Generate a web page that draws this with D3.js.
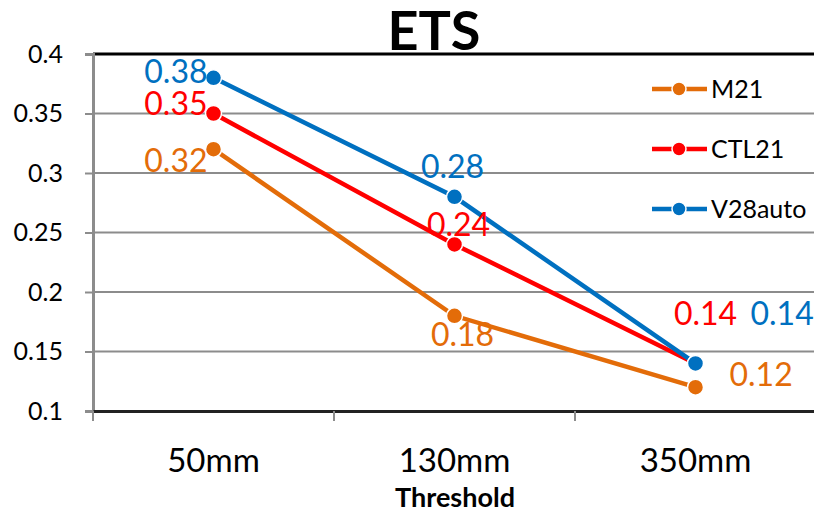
<!DOCTYPE html>
<html>
<head>
<meta charset="utf-8">
<script src="https://cdn.jsdelivr.net/npm/d3@7.9.0/dist/d3.min.js"></script>
<style>
  body { margin: 0; background: #fff; }
  text { font-family: Lato, "Open Sans", sans-serif; }
</style>
</head>
<body>
<div id="chart"></div>
<script>
// Data
const categories = ["50mm", "130mm", "350mm"];
const seriesNames = ["M21", "CTL21", "V28auto"];
const m21 = [0.32, 0.18, 0.12];
const ctl21 = [0.35, 0.24, 0.14];
const v28auto = [0.38, 0.28, 0.14];
const yTicks = [0.1, 0.15, 0.2, 0.25, 0.3, 0.35, 0.4];

const colors = {M21: "#E36C09", CTL21: "#FF0000", V28auto: "#0070C0"};
const series = [
  {name: "M21", values: m21},
  {name: "CTL21", values: ctl21},
  {name: "V28auto", values: v28auto}
];

// label offsets (dx, dy, anchor) per series per point
const labelPos = {
  M21: [[-6, 12, "end"], [8, 19, "middle"], [34, -12, "start"]],
  CTL21: [[-6, -10, "end"], [4, -20, "middle"], [10, -50, "middle"]],
  V28auto: [[-6, -6, "end"], [-2, -30, "middle"], [55, -50, "start"]]
};

const width = 814, height = 513;
const margin = {top: 54, right: -2, bottom: 102, left: 93};

const svg = d3.select("#chart").append("svg")
  .attr("width", width).attr("height", height);

const x = d3.scaleBand().domain(categories)
  .range([margin.left, width - margin.right]);
const y = d3.scaleLinear().domain([0.1, 0.4])
  .range([height - margin.bottom, margin.top]);

// gridlines
svg.append("g").selectAll("line")
  .data(yTicks.slice(1, -1))
  .join("line")
  .attr("x1", margin.left).attr("x2", width)
  .attr("y1", d => y(d)).attr("y2", d => y(d))
  .attr("stroke", "#8c8c8c").attr("stroke-width", 2);

// top border
svg.append("line")
  .attr("x1", margin.left).attr("x2", width)
  .attr("y1", y(0.4)).attr("y2", y(0.4))
  .attr("stroke", "#000").attr("stroke-width", 3);

// Y axis
const yAxis = svg.append("g")
  .attr("transform", `translate(${margin.left},0)`)
  .call(d3.axisLeft(y).tickValues(yTicks).tickSize(8).tickPadding(22)
    .tickFormat(d => d3.format("")(+d.toFixed(2))));
yAxis.select(".domain").attr("stroke", "#8c8c8c").attr("stroke-width", 3);
yAxis.selectAll(".tick line").attr("stroke", "#8c8c8c").attr("stroke-width", 2);
yAxis.selectAll(".tick text").attr("font-size", 25).attr("fill", "#000")
  .style("font-family", "Lato, sans-serif");

// X axis
const xAxis = svg.append("g")
  .attr("transform", `translate(0,${y(0.1)})`)
  .call(d3.axisBottom(x).tickSize(0).tickPadding(38));
xAxis.select(".domain").attr("stroke", "#222").attr("stroke-width", 3);
xAxis.selectAll(".tick text").attr("font-size", 33).attr("fill", "#000")
  .style("font-family", "Lato, sans-serif");
// category separator ticks
svg.append("g").selectAll("line")
  .data(categories)
  .join("line")
  .attr("x1", d => x(d)).attr("x2", d => x(d))
  .attr("y1", y(0.1)).attr("y2", y(0.1) + 10)
  .attr("stroke", "#8c8c8c").attr("stroke-width", 2);

// title
svg.append("text")
  .attr("x", 434).attr("y", 50)
  .attr("text-anchor", "middle")
  .attr("font-size", 54).attr("font-weight", "bold")
  .text("ETS");

// x axis title
svg.append("text")
  .attr("x", 455).attr("y", 507)
  .attr("text-anchor", "middle")
  .attr("font-size", 27).attr("font-weight", "bold")
  .text("Threshold");

// lines
const line = d3.line()
  .x((d, i) => x(categories[i]) + x.bandwidth() / 2)
  .y(d => y(d));

series.forEach(s => {
  svg.append("path")
    .datum(s.values)
    .attr("fill", "none")
    .attr("stroke", colors[s.name])
    .attr("stroke-width", 4.5)
    .attr("d", line);
});

series.forEach(s => {
  svg.append("g").selectAll("circle")
    .data(s.values)
    .join("circle")
    .attr("cx", (d, i) => x(categories[i]) + x.bandwidth() / 2)
    .attr("cy", d => y(d))
    .attr("r", 8)
    .attr("fill", colors[s.name])
    .attr("stroke", "#fff").attr("stroke-width", 1.5);
});

// data labels
series.forEach(s => {
  svg.append("g").selectAll("text")
    .data(s.values)
    .join("text")
    .attr("x", (d, i) => x(categories[i]) + x.bandwidth() / 2 + labelPos[s.name][i][0])
    .attr("y", (d, i) => y(d) + labelPos[s.name][i][1])
    .attr("dy", "0.35em")
    .attr("text-anchor", (d, i) => labelPos[s.name][i][2])
    .attr("font-size", 32)
    .attr("fill", colors[s.name])
    .text(d => d.toFixed(2));
});

// legend
const legend = svg.append("g");
seriesNames.forEach((n, i) => {
  const ly = 89 + i * 60;
  const g = legend.append("g");
  g.append("line")
    .attr("x1", 652).attr("x2", 707)
    .attr("y1", ly).attr("y2", ly)
    .attr("stroke", colors[n]).attr("stroke-width", 4.5);
  g.append("circle")
    .attr("cx", 679).attr("cy", ly).attr("r", 7)
    .attr("fill", colors[n]).attr("stroke", "#fff").attr("stroke-width", 1.5);
  g.append("text")
    .attr("x", 711).attr("y", ly).attr("dy", "0.35em")
    .attr("font-size", 25).text(n);
});
</script>
</body>
</html>
